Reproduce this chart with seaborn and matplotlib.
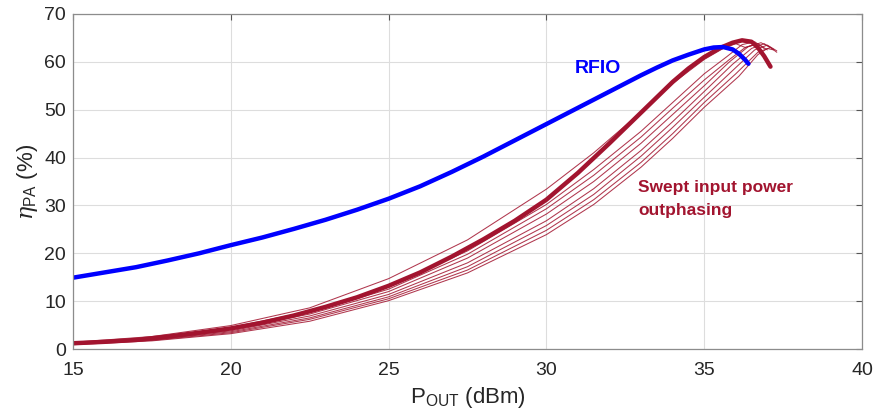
import matplotlib
matplotlib.use("Agg")
import matplotlib.pyplot as plt
import seaborn as sns
import pandas as pd

# ---------------- data ----------------
rfio_pout = [15, 16, 17, 18, 19, 20, 21, 22, 23, 24, 25, 26, 27, 28, 29, 30, 31, 32, 33,
             33.5, 34, 34.5, 35, 35.3, 35.6, 35.9, 36.1, 36.3, 36.4]
rfio_eff = [14.9, 16.0, 17.1, 18.5, 20.0, 21.7, 23.3, 25.1, 27.0, 29.1, 31.4, 34.0, 37.0,
            40.2, 43.6, 47.0, 50.4, 53.8, 57.2, 58.8, 60.3, 61.5, 62.6, 63.0, 63.1, 62.6,
            61.7, 60.4, 59.6]

swept_main_pout = [15, 16, 17, 18, 19, 20, 21, 22, 23, 24, 25, 26, 27, 28, 29, 30, 31, 32,
                   33, 34, 34.5, 35, 35.5, 35.9, 36.2, 36.5, 36.7, 36.9, 37.1]
swept_main_eff = [1.2, 1.5, 1.9, 2.6, 3.4, 4.3, 5.5, 7.0, 8.8, 10.8, 13.2, 16.0, 19.3, 22.9,
                  26.8, 31.2, 36.8, 43.0, 49.4, 55.8, 58.6, 61.0, 62.9, 64.0, 64.5, 64.2,
                  63.0, 61.2, 59.0]

sweep_grid = [15, 17.5, 20, 22.5, 25, 27.5, 30, 31.5, 33, 34, 35]
sweep_body = [
    [1.4, 2.6, 4.9, 8.6, 14.7, 22.8, 33.4, 41.0, 49.5, 55.5, 60.5],
    [1.3, 2.3, 4.5, 7.9, 13.0, 20.5, 30.2, 37.5, 45.5, 51.5, 57.5],
    [1.25, 2.2, 4.3, 7.6, 12.5, 19.8, 29.3, 36.3, 44.3, 50.3, 56.2],
    [1.2, 2.1, 4.1, 7.3, 12.0, 19.0, 28.2, 35.0, 43.0, 49.0, 55.0],
    [1.1, 2.0, 3.8, 6.9, 11.4, 18.0, 26.8, 33.5, 41.5, 47.5, 53.8],
    [1.1, 1.9, 3.6, 6.5, 10.9, 17.2, 25.8, 32.3, 40.3, 46.3, 52.6],
    [1.0, 1.8, 3.4, 6.2, 10.5, 16.5, 24.8, 31.2, 39.0, 45.0, 51.5],
    [0.9, 1.7, 3.2, 5.8, 10.1, 15.9, 23.9, 30.2, 38.0, 44.0, 50.5],
]
sweep_tail_pout = [
    [35.6, 36.0, 36.3, 36.6],
    [35.7, 36.2, 36.6, 36.9],
    [35.8, 36.3, 36.7, 37.0],
    [35.8, 36.4, 36.8, 37.1],
    [35.9, 36.5, 36.9, 37.2],
    [36.0, 36.6, 37.0, 37.3],
    [36.0, 36.7, 37.1, 37.3],
    [36.1, 36.7, 37.0, 37.2],
]
sweep_tail_eff = [
    [62.8, 63.8, 63.0, 63.6],
    [61.0, 63.6, 64.2, 62.8],
    [60.5, 63.0, 63.8, 62.5],
    [60.0, 63.2, 64.0, 63.0],
    [59.5, 62.8, 63.8, 62.6],
    [58.8, 62.5, 63.5, 62.3],
    [57.5, 62.0, 63.0, 62.0],
    [57.0, 61.5, 62.8, 62.5],
]

x_ticks = [15, 20, 25, 30, 35, 40]
y_ticks = [0, 10, 20, 30, 40, 50, 60, 70]

# ---------------- style ----------------
sns.set_style("white")
plt.rcParams["font.family"] = ["Liberation Sans", "DejaVu Sans"]
plt.rcParams["mathtext.fontset"] = "custom"
plt.rcParams["mathtext.rm"] = "Liberation Sans"
plt.rcParams["mathtext.it"] = "DejaVu Serif:italic"

RED = "#A2142F"
BLUE = "#0000FF"

fig = plt.figure(figsize=(8.76, 4.19), dpi=100)
ax = fig.add_axes([73 / 876, 1 - 349 / 419, (862 - 73) / 876, (349 - 14) / 419])

# thin swept curves
for body, tx, ty in zip(sweep_body, sweep_tail_pout, sweep_tail_eff):
    df = pd.DataFrame({"pout": sweep_grid + tx, "eff": body + ty})
    sns.lineplot(data=df, x="pout", y="eff", ax=ax, color=RED, lw=0.75,
                 sort=False, estimator=None, alpha=0.85)

# thick main swept curve
df_main = pd.DataFrame({"pout": swept_main_pout, "eff": swept_main_eff})
sns.lineplot(data=df_main, x="pout", y="eff", ax=ax, color=RED, lw=3.2,
             sort=False, estimator=None)

# RFIO
df_rfio = pd.DataFrame({"pout": rfio_pout, "eff": rfio_eff})
sns.lineplot(data=df_rfio, x="pout", y="eff", ax=ax, color=BLUE, lw=3.2,
             sort=False, estimator=None)

ax.set_xlim(15, 40)
ax.set_ylim(0, 70)
ax.set_xticks(x_ticks)
ax.set_yticks(y_ticks)
ax.grid(True, color="#dddddd", lw=0.8)
ax.set_axisbelow(True)
for s in ax.spines.values():
    s.set_color("#8c8c8c")
    s.set_linewidth(0.9)
ax.tick_params(direction="in", length=4, width=0.8, color="#555555",
               labelsize=14, labelcolor="#262626", top=True, right=True)
ax.tick_params(axis="x", pad=9)
ax.tick_params(axis="y", pad=5)

ax.set_xlabel(r"P$_{\mathrm{OUT}}$ (dBm)", fontsize=16, color="#262626", labelpad=5)
ax.set_ylabel(r"$\eta_{\mathrm{PA}}$ (%)", fontsize=16, color="#262626", labelpad=3)

ax.text(30.9, 57.7, "RFIO", color=BLUE, fontsize=14, fontweight="bold", va="baseline")
ax.text(32.9, 32.8, "Swept input power", color=RED, fontsize=12.5,
        fontweight="bold", va="baseline")
ax.text(32.9, 28.0, "outphasing", color=RED, fontsize=12.5,
        fontweight="bold", va="baseline")

fig.savefig("out.png", dpi=100)
